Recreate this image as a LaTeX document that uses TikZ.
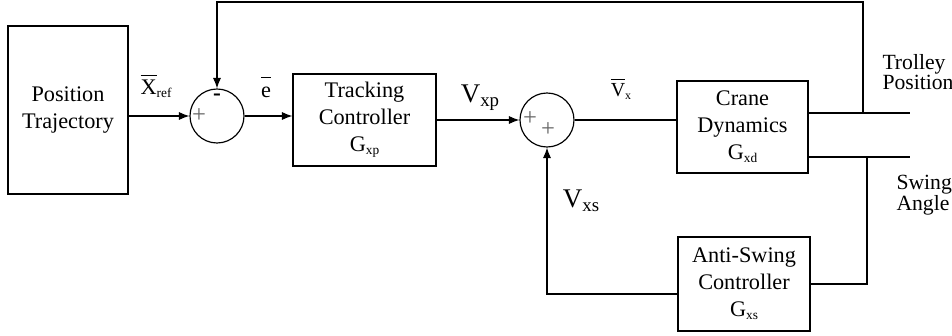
\documentclass[tikz,border=0pt]{standalone}
\usepackage{fontspec}
\setmainfont{Liberation Serif}
\usetikzlibrary{arrows.meta}
\newcommand{\ovl}[1]{$\overline{\mbox{\rule{0pt}{0.82em}#1}}$}
\newcommand{\sub}[2][0.7]{\raisebox{-0.3ex}{\scalebox{#1}{#2}}}

\begin{document}
\begin{tikzpicture}[x=0.03cm, y=-0.03cm, >={Latex[length=9pt,width=7pt]}, line width=1pt,
    block/.style={draw, align=center, inner sep=0pt, font=\fontsize{19}{23}\selectfont},
    junction/.style={draw, circle, minimum size=1.62cm, inner sep=0pt},
    sig/.style={font=\fontsize{19}{19}\selectfont},
    bigsig/.style={font=\fontsize{23}{23}\selectfont},
    outlab/.style={anchor=west, align=left, font=\fontsize{18.5}{17.5}\selectfont},
    sign/.style={font=\fontsize{21}{21}\selectfont, gray!80!black}]

    \useasboundingbox (0,0) rectangle (952,336);

    % ========== Blocks ==========
    \node[block, minimum width=3.6cm, minimum height=5.04cm] (traj) at (68,110) {Position\\Trajectory};
    \node[block, minimum width=4.29cm, minimum height=2.76cm] (track) at (364.5,120) {Tracking\\Controller\\G\sub[0.6]{xp}};
    \node[block, minimum width=3.93cm, minimum height=2.76cm] (crane) at (742.5,127) {Crane\\Dynamics\\G\sub[0.6]{xd}};
    \node[block, minimum width=3.96cm, minimum height=2.82cm] (anti) at (744,284) {Anti-Swing\\Controller\\G\sub[0.6]{xs}};

    % ========== Summing junctions ==========
    \node[junction] (sum1) at (217,116) {};
    \node[junction] (sum2) at (547,120) {};
    \node[sign] (p1) at (199,116) {+};
    \node[font=\bfseries\fontsize{20}{20}\selectfont] (m1) at (217,97) {-};
    \node[sign] (p2) at (530,119) {+};
    \node[sign] (p3) at (548,130) {+};

    % ========== Outputs ==========
    \coordinate (tpos) at (910,113);
    \coordinate (sang) at (910,157);
    \coordinate (fbk) at (863,113);
    \coordinate (swg) at (867,157);
    \coordinate (top) at (863,2);

    % ========== Forward path ==========
    \draw[->] (traj.east |- sum1) -- (sum1.west);
    \draw[->] (sum1.east) -- (sum1.east -| track.west);
    \draw[->] (track.east |- sum2) -- (sum2.west);
    \draw (sum2.east) -- (sum2.east -| crane.west);
    \draw (crane.east |- tpos) -- (tpos);
    \draw (crane.east |- sang) -- (sang);

    % ========== Feedback loops ==========
    \draw[->] (fbk) -- (top) -| (sum1.north);
    \draw (swg) |- (anti.east);
    \draw[->] ([yshift=-0.3cm]anti.west) -| (sum2.south);

    % ========== Signal labels ==========
    \node[sig] (xref) at (156,86) {\ovl{X}\sub[0.6]{ref}};
    \node[sig] (err) at (266,87) {\ovl{e}};
    \node[bigsig] (vxp) at (480,98) {V\sub{xp}};
    \node[font=\fontsize{17}{17}\selectfont] (vx) at (621,89) {\ovl{V}\sub[0.6]{x}};
    \node[bigsig] (vxs) at (581,201) {V\sub{xs}};
    \node[outlab] (tlab) at (878,72) {Trolley\\Position};
    \node[outlab] (slab) at (892,195) {Swing\\Angle};

\end{tikzpicture}
\end{document}
